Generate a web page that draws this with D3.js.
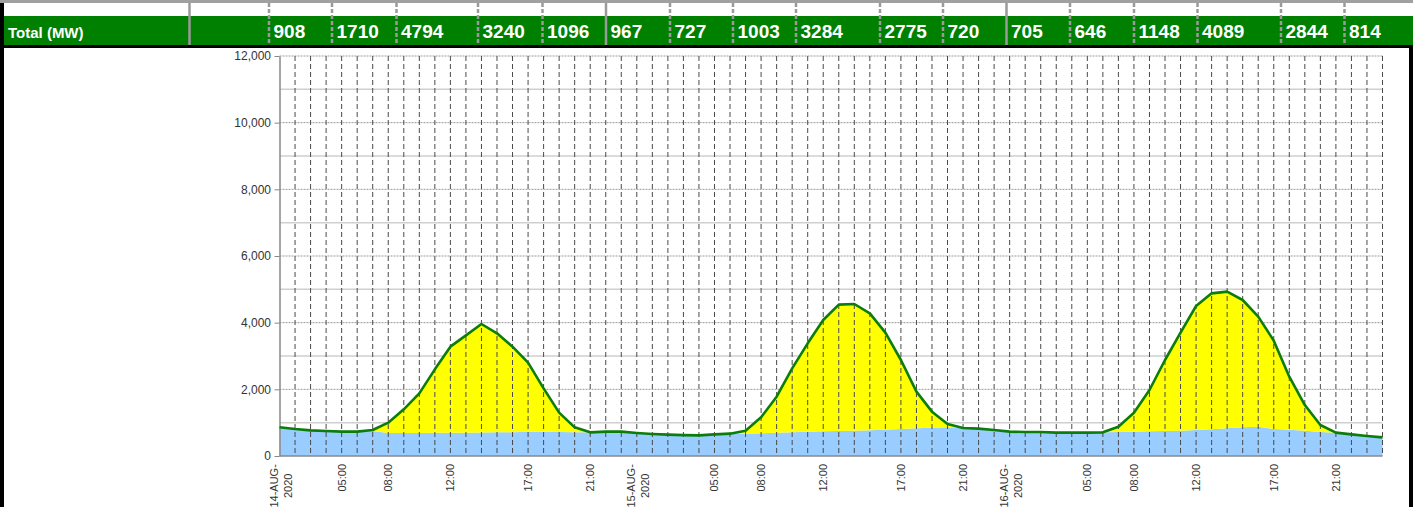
<!DOCTYPE html>
<html><head><meta charset="utf-8">
<script src="https://cdn.jsdelivr.net/npm/d3@7"></script>
<style>body{margin:0;background:#fff;overflow:hidden}svg{display:block;font-family:"Liberation Sans",Arial,Helvetica,sans-serif}</style>
</head><body><svg id="c" width="1413" height="507"></svg>
<script>
// ---- data ----
const headerLabel = "Total (MW)";
const headerValues = [908,1710,4794,3240,1096,967,727,1003,3284,2775,720,705,646,1148,4089,2844,814];
const days = ["14-AUG-2020","15-AUG-2020","16-AUG-2020"];
const hours = ["01:00","02:00","03:00","04:00","05:00","06:00","07:00","08:00","09:00","10:00","11:00","12:00","13:00","14:00","15:00","16:00","17:00","18:00","19:00","20:00","21:00","22:00","23:00","24:00"];
const categories = days.flatMap(d => hours.map(h => d + " " + h));
const totalMW = [
  861,810,770,750,730,731,780,1000,1400,1880,2600,3280,3620,3960,3680,3280,2800,2030,1300,860,710,730,730,690,
  660,640,625,620,650,670,760,1160,1780,2630,3380,4080,4540,4560,4280,3700,2880,1930,1330,960,840,820,780,730,
  720,720,700,700,700,710,880,1300,1980,2880,3700,4500,4880,4930,4680,4180,3460,2380,1530,930,700,650,600,560
];
const baseMW = [
  861,810,770,750,730,731,750,690,690,690,695,700,700,705,710,715,725,730,720,715,710,730,730,690,
  660,640,625,620,650,660,670,680,700,710,730,740,750,760,775,790,810,830,845,860,840,820,780,730,
  720,720,700,700,700,710,720,730,740,750,760,780,800,830,860,880,810,790,760,720,700,650,600,560
];
const tickIndex = [0,4,7,11,16,20,23,28,31,35,40,44,47,52,55,59,64,68];
const tickLabels = ["14-AUG-2020","05:00","08:00","12:00","17:00","21:00","15-AUG-2020","05:00","08:00","12:00","17:00","21:00","16-AUG-2020","05:00","08:00","12:00","17:00","21:00"];
const yTicks = [0,2000,4000,6000,8000,10000,12000];

// ---- layout ----
const W = 1413, H = 507;
const headerCols = [269,332,396.5,478,542.5,606,670,733,796,880,943,1006.5,1070,1134,1197.5,1281,1344.5];
const solidCols = [606,1006.5];

const svg = d3.select("#c");

// header
svg.append("rect").attr("x",0).attr("y",0).attr("width",W).attr("height",3).attr("fill","#a0a0a0");
svg.append("rect").attr("x",0).attr("y",16).attr("width",W).attr("height",29).attr("fill","#008000");
svg.append("rect").attr("x",0).attr("y",45).attr("width",W).attr("height",3).attr("fill","#000");
svg.append("rect").attr("x",0).attr("y",3).attr("width",4).attr("height",H-3).attr("fill","#000");
svg.append("rect").attr("x",1409).attr("y",48).attr("width",4).attr("height",H-48).attr("fill","#000");

svg.append("line").attr("x1",189.5).attr("x2",189.5).attr("y1",3).attr("y2",45)
  .attr("stroke","#9a9a9a").attr("stroke-width",2.5);
svg.selectAll(".hsep").data(headerCols).join("line").attr("class","hsep")
  .attr("x1",d=>d).attr("x2",d=>d).attr("y1",3).attr("y2",45)
  .attr("stroke","#9a9a9a").attr("stroke-width",2.5)
  .attr("stroke-dasharray",d=>solidCols.includes(d)?null:"4,2");

svg.append("text").attr("x",8).attr("y",37.5).attr("fill","#fff")
  .attr("font-weight","bold").attr("font-size",15).text(headerLabel);
svg.selectAll(".hval").data(headerValues).join("text").attr("class","hval")
  .attr("x",(d,i)=>headerCols[i]+4.5).attr("y",37.5).attr("fill","#fff")
  .attr("font-weight","bold").attr("font-size",19).text(d=>d);

// chart
const x = d3.scalePoint().domain(categories).range([279.5,1382.5]);
const y = d3.scaleLinear().domain([0,12000]).range([456,56]);

const grid = svg.append("g");
grid.selectAll("line").data(d3.range(1000,12001,1000)).join("line")
  .attr("x1",279.5).attr("x2",1382.5).attr("y1",d=>y(d)).attr("y2",d=>y(d))
  .attr("stroke",d=>d%2000? "#cfcfcf":"#9a9a9a")
  .attr("stroke-width",d=>d%2000?1.5:1)
  .attr("stroke-dasharray",d=>d%2000?null:"2,1");

const pts = categories.map((c,i)=>({c,t:totalMW[i],b:baseMW[i]}));
svg.append("path").datum(pts).attr("fill","#99ccff")
  .attr("d",d3.area().x(d=>x(d.c)).y0(y(0)).y1(d=>y(d.b)));
svg.append("path").datum(pts).attr("fill","#ffff00")
  .attr("d",d3.area().x(d=>x(d.c)).y0(d=>y(d.b)).y1(d=>y(d.t)));

svg.append("g").selectAll("line").data(categories.slice(1)).join("line")
  .attr("x1",d=>x(d)).attr("x2",d=>x(d)).attr("y1",y(12000)).attr("y2",y(0))
  .attr("stroke","#4a4a4a").attr("stroke-width",1).attr("stroke-dasharray","5,3");

// axes
const yAxis = svg.append("g").attr("transform","translate(279.5,0)")
  .call(d3.axisLeft(y).tickValues(yTicks).tickSize(5).tickSizeOuter(0).tickFormat(d3.format(",")));
yAxis.select(".domain").attr("stroke","#888").attr("stroke-width",1.5);
yAxis.selectAll(".tick line").attr("stroke","#888");
yAxis.selectAll(".tick text").attr("font-size",12).attr("fill","#333")
  .attr("font-family","'Liberation Sans',Arial,sans-serif").attr("x",-8.5);
svg.append("line").attr("x1",279.5).attr("x2",1382.5).attr("y1",456).attr("y2",456)
  .attr("stroke","#888").attr("stroke-width",1.5);

// total line
svg.append("path").datum(pts).attr("fill","none").attr("stroke","#0b7d0b")
  .attr("stroke-width",2.6).attr("stroke-linejoin","round")
  .attr("d",d3.line().x(d=>x(d.c)).y(d=>y(d.t)));

// x labels
const xl = svg.append("g").attr("font-size",11).attr("fill","#333");
tickIndex.forEach((idx,k)=>{
  const lab = tickLabels[k];
  const px = x(categories[idx]);
  if (lab.includes("-")) {
    const parts = [lab.slice(0,7), lab.slice(7)];
    const g = xl.append("g").attr("transform",`translate(${px},464) rotate(-90)`);
    const t = g.append("text").attr("text-anchor","middle");
    parts.forEach((p,j)=>t.append("tspan").attr("x",0).attr("y",j===0?-5.5+4:8+4).text(p));
    const len = t.node().getBBox().width;
    t.attr("transform",`translate(${-len/2},0)`);
  } else {
    xl.append("text").attr("transform",`translate(${px+4},464) rotate(-90)`)
      .attr("text-anchor","end").text(lab);
  }
});
</script></body></html>
